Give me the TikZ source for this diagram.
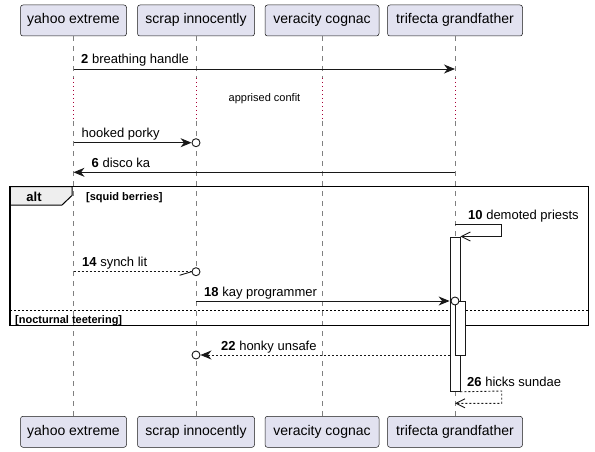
\documentclass[tikz,border=0pt]{standalone}
\usepackage{fontspec}
\setmainfont{Liberation Sans}
\usetikzlibrary{arrows.meta}
\definecolor{partfill}{HTML}{E2E2F0}
\definecolor{partline}{HTML}{181818}
\definecolor{delayline}{HTML}{A80036}
\definecolor{tabfill}{HTML}{EEEEEE}
\begin{document}
\begin{tikzpicture}[x=1pt,y=-1pt,
  part/.style={draw=partline, fill=partfill, rounded corners=2.5pt, line width=0.5pt,
    minimum height=31pt, inner sep=0pt, font=\fontsize{14}{16}\selectfont,
    text height=10pt, text depth=3pt},
  life/.style={draw=partline!55, line width=0.6pt, dash pattern=on 5pt off 5pt},
  delayl/.style={draw=delayline, line width=0.8pt, dash pattern=on 1pt off 3pt},
  msg/.style={draw=partline, line width=0.9pt},
  ret/.style={msg, dash pattern=on 2pt off 2pt},
  fullhead/.style={-{Stealth[length=11pt,width=9pt,inset=3.5pt]}},
  openhead/.style={-{Straight Barb[length=9pt,width=9pt]}},
  lbl/.style={anchor=base west, inner sep=0pt, font=\fontsize{13}{15}\selectfont},
  circ/.style={circle, draw=partline, line width=0.9pt, fill=white, minimum size=8pt, inner sep=0pt},
  act/.style={draw=partline, fill=white, line width=0.8pt, minimum width=10pt, inner sep=0pt, anchor=north},
  grp/.style={font=\bfseries\fontsize{11}{13}\selectfont, anchor=base west, inner sep=0pt}
]
\useasboundingbox (0,0) rectangle (595,452);

% participants
\foreach \n/\x/\w/\t in {y/73.5/106/yahoo extreme, s/196/117/scrap innocently,
    v/322/114/veracity cognac, t/455/135/trifecta grandfather}{
  \node[part, minimum width=\w pt] (\n top) at (\x,20.5) {\t};
  \node[part, minimum width=\w pt] (\n bot) at (\x,431.8) {\t};
  \coordinate (\n d1) at (\x,78);
  \coordinate (\n d2) at (\x,121);
  \draw[life] (\n top.south) -- (\n d1);
  \draw[delayl] (\n d1) -- (\n d2);
  \draw[life] (\n d2) -- (\n bot.north);
}

% delay text
\node[inner sep=0pt, font=\fontsize{11}{13}\selectfont] (delay) at (264.5,99) {apprised confit};

% alt frame
\draw[line width=1pt, fill=tabfill] (10,186.5) -- (72,186.5) -- (72,195.5) -- (62,205) -- (10,205) -- cycle;
\draw[line width=1.6pt] (10,186.5) rectangle (588.5,325.5);
\node[inner sep=0pt, font=\bfseries\fontsize{13}{15}\selectfont] (altlbl) at (34,196.5) {alt};
\node[grp] (g1) at (86,200.5) {[squid berries]};
\draw[line width=0.9pt, dash pattern=on 2pt off 2pt] (10,310.3) -- (588.5,310.3);
\node[grp] (g2) at (15,323) {[nocturnal teetering]};

% activations
\node[act, minimum height=154.5pt] (act1) at (455,236.5) {};
\node[act, minimum height=54pt, anchor=north west] (act2) at (455,301) {};

% message 2
\coordinate (m2a) at (73.5,69);
\coordinate (m2b) at (455,69);
\draw[msg, fullhead] (m2a) -- (m2b);
\node[lbl] (l2) at (81,64) {\textbf{2} breathing handle};

% hooked porky
\node[circ] (c1) at (196,142.7) {};
\coordinate (m3a) at (73.5,142.7);
\draw[msg, fullhead] (m3a) -- (c1.west);
\node[lbl] (l3) at (81.5,137.7) {hooked porky};

% 6 disco ka
\coordinate (m6a) at (455,172.3);
\coordinate (m6b) at (73.5,172.3);
\draw[msg, fullhead] (m6a) -- (m6b);
\node[lbl] (l6) at (91.5,167.5) {\textbf{6} disco ka};

% 10 demoted priests
\coordinate (m10a) at (455,224);
\coordinate (m10r) at (501.7,224);
\draw[msg, openhead] (m10a) -- (m10r) -- (m10r |- act1.north) -- (act1.north east);
\node[lbl] (l10) at (468,219) {\textbf{10} demoted priests};

% 14 synch lit
\node[circ] (c2) at (196,271.7) {};
\coordinate (m14a) at (73.5,271.7);
\draw[ret] (m14a) -- (c2.west);
\draw[msg] (c2.west) -- ++(-12,3.6);
\node[lbl] (l14) at (82,266.7) {\textbf{14} synch lit};

% 18 kay programmer
\coordinate (m18a) at (196,301);
\draw[msg, fullhead] (m18a) -- (act1.west |- m18a);
\node[circ] (c3) at (455,301) {};
\node[lbl] (l18) at (204,296) {\textbf{18} kay programmer};

% 22 honky unsafe
\node[circ] (c4) at (196,355) {};
\draw[ret, fullhead] (act1.west |- c4) -- (c4.east);
\node[lbl] (l22) at (221,350) {\textbf{22} honky unsafe};

% 26 hicks sundae
\coordinate (m26r) at (501.7,391);
\coordinate (m26e) at (455,403.3);
\draw[ret, openhead] (act1.south east) -- (m26r) -- (m26r |- m26e) -- (m26e);
\node[lbl] (l26) at (467,386) {\textbf{26} hicks sundae};
\end{tikzpicture}
\end{document}
